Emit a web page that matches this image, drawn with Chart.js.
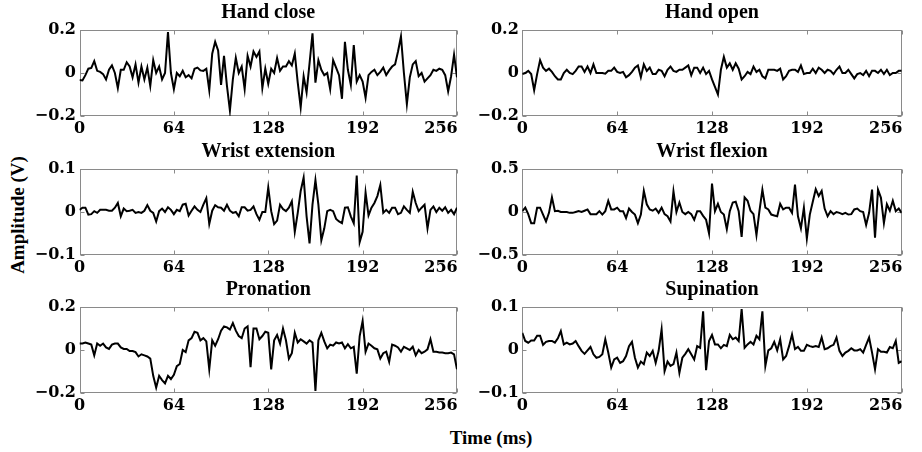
<!DOCTYPE html>
<html>
<head>
<meta charset="utf-8">
<script src="https://cdn.jsdelivr.net/npm/chart.js@4.4.0/dist/chart.umd.min.js"></script>
<style>
  body { margin: 0; background: #fff; }
  #wrap { position: relative; width: 922px; height: 452px; overflow: hidden; background: #fff; }
  #wrap canvas { position: absolute; }
  .lbl { position: absolute; font: bold 19px 'Liberation Serif', serif; color: #000; white-space: nowrap; transform: translate(-50%, -50%); }
</style>
</head>
<body>
<div id="wrap">
  <div class="lbl" style="left:491px; top:438px;">Time (ms)</div>
  <div class="lbl" style="left:18px; top:215px; transform: translate(-50%, -50%) rotate(-90deg);">Amplitude (V)</div>
</div>
<script>
// sample times, one point every 2 ms
const time = Array.from({ length: 129 }, (_, i) => i * 2);
const xTicks = [0, 64, 128, 192, 256];

const handClose = [
  -0.033, -0.035, -0.01, 0.02, 0.024, 0.055, 0.01, 0.005, -0.005, -0.03,
  0.015, 0.035, 0, -0.07, 0.015, 0.015, 0.05, 0.03, -0.02, 0.04,
  -0.045, 0.03, -0.03, 0.025, -0.06, 0.06, 0, 0.03, -0.03, 0,
  0.19, 0, -0.075, 0, -0.015, 0.01, -0.02, -0.01, -0.025, 0.02,
  0.025, 0.012, 0.01, 0.02, -0.08, 0.09, 0.145, 0.105, -0.055, 0.08,
  -0.06, -0.175, -0.03, 0.07, 0, 0.03, -0.075, 0.08, 0.03, 0.1,
  0.075, 0.1, -0.07, 0.02, -0.05, 0.02, 0, 0.07, 0.01, 0.03,
  0.03, 0.055, 0.035, 0.09, -0.045, -0.16, -0.015, -0.09, 0.045, 0.185,
  -0.045, 0.06, 0.015, -0.01, 0, -0.075, 0.06, 0.025, -0.01, -0.12,
  0.145, 0.015, -0.055, 0.13, -0.04, -0.01, -0.04, -0.115, -0.01, 0.005,
  0.015, -0.01, 0.005, 0.025, -0.01, 0.012, 0.03, 0.04, 0.1, 0.17,
  0, -0.145, -0.02, 0.04, 0.055, -0.015, 0, -0.04, -0.025, -0.01,
  0.015, 0.01, 0.02, 0.015, -0.01, -0.085, -0.015, 0.085, -0.02
];

const handOpen = [
  -0.005, 0, 0.01, -0.005, -0.08, -0.005, 0.06, 0.025, 0.01, 0.02,
  0.005, -0.015, -0.03, -0.03, 0, 0.015, 0, -0.005, 0.01, 0.03,
  0.03, 0.005, 0.03, 0, 0.04, 0, 0, 0, -0.003, 0.01,
  0.01, 0.025, 0.005, 0, 0.005, -0.02, -0.01, 0.005, 0.025, 0.035,
  -0.02, 0.04, 0.01, 0.025, -0.005, -0.005, 0.015, 0.01, -0.015, 0.015,
  0.03, 0.01, 0.005, 0.015, 0.015, 0.025, 0.035, -0.01, 0.025, 0.025,
  0, 0.025, -0.005, 0.01, -0.03, -0.065, -0.1, 0.015, 0.075, 0.025,
  0.045, 0.015, 0.045, 0.02, -0.03, -0.015, 0.005, -0.005, 0.03, 0.005,
  0.015, -0.015, -0.025, 0.015, 0.015, 0.015, 0.01, 0.02, -0.03, -0.015,
  0.01, 0.015, 0.015, 0.005, 0.035, -0.005, 0, 0, 0.02, 0,
  0.025, 0.015, 0, 0.015, 0.01, -0.005, 0.015, 0.03, 0, 0,
  0.015, -0.005, -0.025, -0.005, 0, -0.01, 0.01, -0.015, 0.01, 0.01,
  0, 0.015, -0.005, 0.015, -0.01, 0, 0, 0.01, 0.01
];

const wristExtension = [
  0.005, 0.01, 0.01, -0.006, -0.005, 0.002, -0.002, 0.005, 0.005, 0.005,
  0.003, 0.003, 0.01, 0.021, -0.01, 0.008, 0.002, 0.003, 0.005, -0.002,
  0, -0.002, 0.003, 0.016, 0.003, -0.002, -0.022, 0.002, 0.008, 0,
  0.011, 0.005, -0.005, 0.005, 0.002, 0.017, 0.019, -0.008, 0.003, 0.013,
  0.005, 0, 0.017, 0.032, -0.028, 0.003, 0.016, 0.011, 0.01, 0.003,
  0.017, 0.003, -0.002, 0, -0.01, 0.011, 0.011, 0.003, 0.005, 0.013,
  -0.005, -0.018, 0, 0, 0.057, 0.002, -0.028, -0.02, 0.017, 0.007,
  0.002, 0.01, 0.025, -0.046, -0.002, 0.049, 0.08, -0.01, -0.073, 0.017,
  0.074, 0.017, -0.066, -0.038, 0.002, 0.005, 0.002, -0.016, -0.022, -0.026,
  0.01, 0.011, -0.01, -0.026, 0.085, -0.07, -0.046, 0.045, -0.008, 0.01,
  0.021, 0.037, 0.063, -0.002, 0.005, -0.002, 0.01, 0.01, -0.005, -0.002,
  0.013, 0.005, -0.002, 0.047, 0.021, 0.002, 0.01, 0.017, -0.038, 0.005,
  0.013, 0, 0.01, 0.003, 0.011, -0.002, 0.005, -0.005, 0.01
];

const wristFlexion = [
  0.01, 0.05, -0.025, -0.13, -0.13, 0.05, 0.05, -0.03, -0.11, -0.01,
  0.17, 0.01, 0.015, 0, 0, 0, -0.01, -0.01, 0, 0.01,
  0, 0.015, 0.03, -0.025, -0.025, -0.025, 0.01, -0.03, 0.01, 0.13,
  0.03, 0.03, 0.05, 0.01, 0.01, -0.07, 0.04, 0, -0.03, -0.13,
  -0.03, 0.245, 0.09, 0.03, 0.015, 0.04, -0.01, 0.05, -0.025, -0.05,
  -0.11, 0.24, 0, 0.11, 0, -0.025, 0, -0.025, -0.09, 0.01,
  0.01, -0.045, -0.09, -0.25, 0.33, 0.01, 0.095, 0, -0.03, -0.2,
  0.01, 0.11, 0.12, 0.01, -0.29, 0.17, 0.13, 0.015, -0.025, -0.27,
  0.01, 0.26, 0.05, 0.03, -0.03, -0.04, -0.05, 0.095, 0.03, 0.05,
  0.05, -0.01, 0.32, -0.05, -0.19, 0.05, -0.31, -0.03, 0.12, 0.265,
  0.185, 0.245, 0.04, -0.05, 0.01, -0.025, 0, -0.01, -0.025, -0.01,
  -0.03, -0.025, 0.03, 0.04, 0.01, 0, -0.15, -0.01, 0.26, -0.3,
  0.26, 0.165, -0.13, 0.09, 0.015, 0.13, 0.01, 0.04, -0.01
];

const pronation = [
  0.03, 0.03, 0.035, 0.03, 0.025, -0.025, 0.03, 0.02, 0.03, 0.012,
  0.005, 0.025, 0.03, 0.03, 0.012, 0.005, 0.005, -0.005, -0.005, -0.01,
  -0.03, -0.02, -0.025, -0.03, -0.04, -0.12, -0.175, -0.12, -0.14, -0.155,
  -0.12, -0.135, -0.115, -0.075, -0.065, 0, -0.01, 0.045, 0.055, 0.085,
  0.08, 0.045, 0.055, 0.04, -0.09, 0.045, 0.02, 0.05, 0.09, 0.11,
  0.105, 0.095, 0.125, 0.09, 0.065, 0.055, 0.1, 0.11, -0.08, 0.1,
  0.1, 0.05, 0.065, 0.085, 0.08, -0.09, 0.045, 0.07, 0.03, 0.1,
  0.045, -0.04, -0.015, 0.08, 0.035, 0.05, 0.04, 0.03, 0.045, 0.035,
  -0.19, 0.045, 0.08, 0.04, 0.008, 0.025, 0.02, 0.035, 0.03, 0.035,
  0.008, 0.027, 0.008, 0.015, -0.11, 0.065, 0.135, -0.008, 0.03, 0.02,
  0.008, 0.003, -0.04, -0.015, -0.008, -0.055, 0.025, 0.02, 0.012, -0.008,
  0.015, 0.008, 0, 0.015, -0.025, 0, -0.015, -0.008, 0.003, 0.05,
  -0.008, -0.008, -0.012, -0.012, -0.015, -0.015, -0.012, -0.02, -0.09
];

const supination = [
  0.04, 0.021, 0.017, 0.022, 0.022, 0.033, 0.033, 0.012, 0.019, 0.021,
  0.021, 0.017, 0.027, 0.044, 0.013, 0.017, 0.013, 0.015, 0.021, 0.009,
  -0.002, -0.009, -0.001, 0.007, -0.01, -0.018, -0.016, -0.01, 0.025, -0.006,
  -0.041, -0.022, -0.018, -0.03, -0.026, -0.014, 0.009, 0.019, -0.018, -0.041,
  -0.027, -0.033, -0.006, -0.014, -0.002, -0.03, -0.002, 0.048, -0.049, -0.027,
  -0.037, -0.033, -0.006, -0.053, -0.018, -0.009, 0.002, -0.01, -0.022, 0.009,
  0.005, 0.09, -0.047, 0.021, 0.035, 0.013, 0.013, 0.004, 0.012, 0.009,
  0.035, 0.025, 0.029, 0.021, 0.095, 0.005, 0.013, 0.019, 0.013, 0.033,
  0.025, 0.09, -0.037, -0.001, 0.004, 0.019, -0.001, 0.025, -0.022, -0.014,
  0.009, 0.036, 0.002, 0.007, -0.002, -0.002, 0.012, 0.009, 0.007, 0.009,
  0.007, 0.029, 0.002, 0.004, 0.009, 0.012, 0.029, -0.002, -0.014, -0.006,
  -0.002, 0.004, -0.001, -0.001, 0.002, -0.006, 0.012, 0.029, -0.006, -0.045,
  0.002, -0.004, -0.004, -0.006, 0.007, 0.004, 0.021, -0.03, -0.026
];

const tickFont = { family: "'DejaVu Serif', serif", size: 16, weight: 'bold', lineHeight: 1.2 };
const titleFont = { family: "'Liberation Serif', serif", size: 20, weight: 'bold', lineHeight: 1.2 };

// grey box round the plot area plus small inward ticks
const framePlugin = {
  id: 'frame',
  beforeDatasetsDraw(chart) {
    const { ctx, chartArea: a, scales: { x, y } } = chart;
    const l = Math.round(a.left) + 0.5, r = Math.round(a.right) - 0.5;
    const t = Math.round(a.top) + 0.5, b = Math.round(a.bottom) - 0.5;
    ctx.save();
    ctx.strokeStyle = '#8a8a8a';
    ctx.lineWidth = 1;
    ctx.strokeRect(l, t, r - l, b - t);
    ctx.beginPath();
    x.ticks.forEach(tk => {
      const px = Math.round(x.getPixelForValue(tk.value)) + 0.5;
      ctx.moveTo(px, t); ctx.lineTo(px, t + 4);
      ctx.moveTo(px, b); ctx.lineTo(px, b - 4);
    });
    y.ticks.forEach(tk => {
      const py = Math.round(y.getPixelForValue(tk.value)) + 0.5;
      ctx.moveTo(l, py); ctx.lineTo(l + 4, py);
      ctx.moveTo(r, py); ctx.lineTo(r - 4, py);
    });
    ctx.stroke();
    ctx.restore();
  }
};

function makePanel(col, row, title, values, yMax) {
  const wrap = document.getElementById('wrap');
  const canvas = document.createElement('canvas');
  const left = col === 0 ? 0 : 470;
  const width = col === 0 ? 500 : 480;
  const axisW = col === 0 ? 79.5 : 52.3;
  const padR = col === 0 ? 43 : 48.3;
  const tops = [0, 139, 277];
  canvas.width = width;
  canvas.height = 138;
  canvas.style.left = left + 'px';
  canvas.style.top = tops[row] + 'px';
  wrap.appendChild(canvas);

  new Chart(canvas, {
    type: 'line',
    data: {
      datasets: [{
        data: values.map((v, i) => ({ x: time[i], y: v })),
        borderColor: '#000',
        borderWidth: 2,
        pointRadius: 0,
        tension: 0
      }]
    },
    options: {
      responsive: false,
      animation: false,
      devicePixelRatio: 1,
      layout: { padding: { left: 0, right: padR, top: 0, bottom: 0 } },
      plugins: {
        legend: { display: false },
        tooltip: { enabled: false },
        title: {
          display: true,
          text: title,
          color: '#000',
          fullSize: false,
          font: titleFont,
          padding: { top: 1, bottom: 5 }
        }
      },
      scales: {
        x: {
          type: 'linear',
          min: 0,
          max: 256,
          grid: { display: false, drawTicks: false },
          border: { display: false },
          afterBuildTicks: s => { s.ticks = xTicks.map(v => ({ value: v })); },
          ticks: {
            color: '#000',
            font: tickFont,
            padding: 3,
            maxRotation: 0,
            autoSkip: false,
            // the last label sits flush with the right edge of the box
            callback: v => v === 256 ? '256\u2003\u2003' : String(v)
          },
          afterFit: s => { s.height = 22; }
        },
        y: {
          min: -yMax,
          max: yMax,
          grid: { display: false, drawTicks: false },
          border: { display: false },
          afterBuildTicks: s => { s.ticks = [-yMax, 0, yMax].map(v => ({ value: v })); },
          ticks: {
            color: '#000',
            font: tickFont,
            padding: 3.5,
            callback: v => v === 0 ? '0' : (v < 0 ? '\u2212' : '') + Math.abs(v).toFixed(1)
          },
          afterFit: s => { s.width = axisW; }
        }
      }
    },
    plugins: [framePlugin]
  });
}

makePanel(0, 0, 'Hand close', handClose, 0.2);
makePanel(1, 0, 'Hand open', handOpen, 0.2);
makePanel(0, 1, 'Wrist extension', wristExtension, 0.1);
makePanel(1, 1, 'Wrist flexion', wristFlexion, 0.5);
makePanel(0, 2, 'Pronation', pronation, 0.2);
makePanel(1, 2, 'Supination', supination, 0.1);
</script>
</body>
</html>
